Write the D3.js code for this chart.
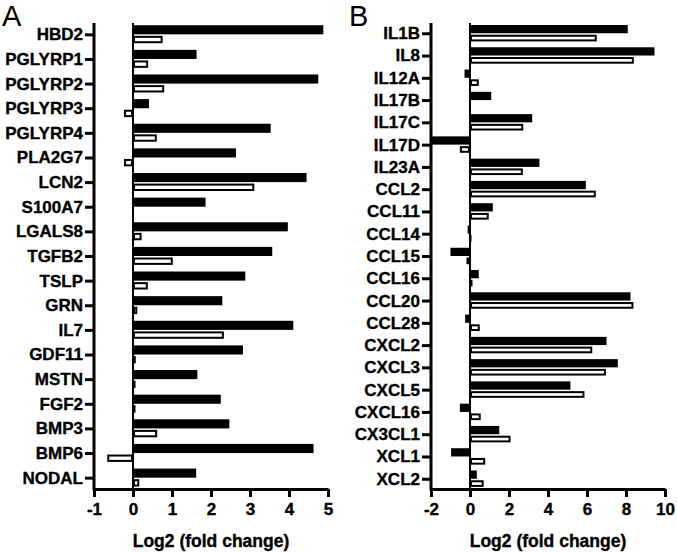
<!doctype html>
<html>
	<head>
		<style>
			body{ margin: 0; background: #fff; }
			svg text{ font-family: "Liberation Sans", Arial, sans-serif; }
		</style>
	</head>
	<body>
		<svg id=chart width=677 height=553></svg>

		<script src="https://d3js.org/d3.v7.min.js"></script>
		<script>
			// panel A
			var genesA = ["HBD2", "PGLYRP1", "PGLYRP2", "PGLYRP3", "PGLYRP4", "PLA2G7", "LCN2", "S100A7", "LGALS8",
				"TGFB2", "TSLP", "GRN", "IL7", "GDF11", "MSTN", "FGF2", "BMP3", "BMP6", "NODAL"];
			var blackA = [4.88, 1.63, 4.75, 0.41, 3.53, 2.64, 4.45, 1.86, 3.97, 3.57, 2.88, 2.29, 4.11, 2.82, 1.65, 2.25, 2.47, 4.63, 1.62];
			var whiteA = [0.76, 0.39, 0.80, -0.23, 0.61, -0.23, 3.11, 0.0, 0.22, 1.02, 0.38, 0.11, 2.33, 0.07, 0.02, 0.02, 0.62, -0.66, 0.16];
			var ticksA = [-1, 0, 1, 2, 3, 4, 5];

			// panel B
			var genesB = ["IL1B", "IL8", "IL12A", "IL17B", "IL17C", "IL17D", "IL23A", "CCL2", "CCL11", "CCL14", "CCL15",
				"CCL16", "CCL20", "CCL28", "CXCL2", "CXCL3", "CXCL5", "CXCL16", "CX3CL1", "XCL1", "XCL2"];
			var blackB = [8.09, 9.46, -0.28, 1.09, 3.19, -2.0, 3.56, 5.94, 1.17, -0.12, -1.0, 0.45, 8.23, -0.25, 7.0, 7.58, 5.15, -0.52, 1.50, -0.97, 0.35];
			var whiteB = [6.50, 8.40, 0.45, 0.0, 2.73, -0.52, 2.71, 6.45, 0.96, -0.05, -0.18, 0.03, 8.38, 0.50, 6.27, 6.97, 5.87, 0.55, 2.08, 0.78, 0.70];
			var ticksB = [-2, 0, 2, 4, 6, 8, 10];

			var chart = d3.select("#chart"),
				yTop = 23, yBottom = 489;

			function panel(letter, genes, black, white, ticks, left, right, letterX){
				var x = d3.scaleLinear()
					.domain([ticks[0], ticks[ticks.length - 1]])
					.range([left, right]);
				var y = d3.scalePoint()
					.domain(genes)
					.range([yTop, yBottom])
					.padding(0.46);
				var step = y.step();
				var g = chart.append("g");

				// bars: black above the tick, white (outlined) below
				var rows = genes.map(function(d, i) { return {name: d, b: black[i], w: white[i]}; });
				var row = g.selectAll(".row")
					.data(rows)
					.enter().append("g");
				row.append("rect")
					.attr("x", function(d) { return Math.min(x(0), x(d.b)); })
					.attr("width", function(d) { return Math.abs(x(d.b) - x(0)); })
					.attr("y", function(d) { return y(d.name) - step * 0.37; })
					.attr("height", step * 0.37)
					.attr("fill", "#000");
				row.filter(function(d) { return d.w != 0; })
					.append("rect")
					.attr("x", function(d) { return Math.min(x(0), x(d.w)) + 1; })
					.attr("width", function(d) { return Math.max(0.5, Math.abs(x(d.w) - x(0)) - 2); })
					.attr("y", function(d) { return y(d.name) + 2.5; })
					.attr("height", step * 0.3 - 2)
					.attr("fill", "#fff")
					.attr("stroke", "#000")
					.attr("stroke-width", 2);

				// zero line
				g.append("line")
					.attr("x1", x(0)).attr("x2", x(0))
					.attr("y1", yTop).attr("y2", yBottom)
					.attr("stroke", "#000")
					.attr("stroke-width", 2);

				var xAxis = d3.axisBottom(x)
					.tickValues(ticks)
					.tickFormat(function(d) { return String(d); })
					.tickSize(8)
					.tickSizeOuter(0)
					.tickPadding(6);
				var yAxis = d3.axisLeft(y)
					.tickSize(9)
					.tickSizeOuter(0)
					.tickPadding(2);

				var ax = g.append("g")
					.attr("transform", "translate(0," + yBottom + ")")
					.call(xAxis);
				var ay = g.append("g")
					.attr("transform", "translate(" + left + ",0)")
					.call(yAxis);
				ay.select(".domain").attr("d", "M0," + yTop + "V" + (yBottom + 1.5));
				[ax, ay].forEach(function(a) {
					a.attr("font-family", null).attr("font-size", 17);
					a.selectAll("path, line").attr("stroke", "#000").attr("stroke-width", 3);
					a.selectAll("text")
						.attr("fill", "#000")
						.attr("stroke", "#000")
						.attr("stroke-width", 0.35)
						.attr("font-size", 17)
						.attr("font-weight", "bold");
				});

				g.append("text")
					.attr("x", (left + right) / 2)
					.attr("y", 547)
					.attr("text-anchor", "middle")
					.attr("font-size", 17.5)
					.attr("font-weight", "bold")
					.attr("stroke", "#000")
					.attr("stroke-width", 0.35)
					.text("Log2 (fold change)");

				g.append("text")
					.attr("x", letterX)
					.attr("y", 26)
					.attr("font-size", 29)
					.text(letter);
			}

			panel("A", genesA, blackA, whiteA, ticksA, 94, 328, 2);
			panel("B", genesB, blackB, whiteB, ticksB, 431, 665, 349);
		</script>
	</body>
</html>
